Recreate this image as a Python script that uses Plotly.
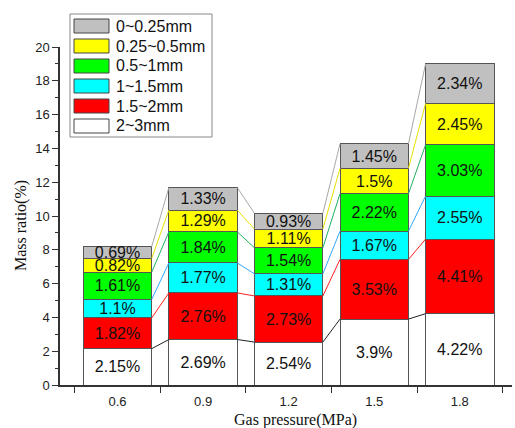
import plotly.graph_objects as go

# ---- data ----
pressures = ["0.6", "0.9", "1.2", "1.5", "1.8"]
size_classes = ["2~3mm", "1.5~2mm", "1~1.5mm", "0.5~1mm", "0.25~0.5mm", "0~0.25mm"]
mass_2_3 = [2.15, 2.69, 2.54, 3.9, 4.22]
mass_15_2 = [1.82, 2.76, 2.73, 3.53, 4.41]
mass_1_15 = [1.1, 1.77, 1.31, 1.67, 2.55]
mass_05_1 = [1.61, 1.84, 1.54, 2.22, 3.03]
mass_025_05 = [0.82, 1.29, 1.11, 1.5, 2.45]
mass_0_025 = [0.69, 1.33, 0.93, 1.45, 2.34]

series = [mass_2_3, mass_15_2, mass_1_15, mass_05_1, mass_025_05, mass_0_025]
fill_colors = ["#FFFFFF", "#FF0000", "#00FFFF", "#00FF00", "#FFFF00", "#C0C0C0"]
link_colors = ["#222222", "#FF2020", "#30A8FF", "#20B060", "#E8E000", "#A8A8A8"]

W, H = 515, 428
L, R, T, B = 60, 3, 47, 43
bar_w = 0.8
xs = list(range(len(pressures)))

fig = go.Figure()

# stacked bars
for name, vals, col in zip(size_classes, series, fill_colors):
    fig.add_trace(go.Bar(
        x=xs, y=vals, name=name, width=bar_w,
        marker=dict(color=col, line=dict(color="#555555", width=1)),
        text=[f"{v}%" for v in vals],
        textposition="inside", insidetextanchor="middle", textangle=0,
        textfont=dict(family="Liberation Sans", size=16, color="#111111"),
        showlegend=False, hoverinfo="skip",
    ))

# connecting lines between tops of equal segments
cum = [0.0] * len(xs)
for vals, lc in zip(series, link_colors):
    cum = [c + v for c, v in zip(cum, vals)]
    lx, ly = [], []
    for i in range(len(xs) - 1):
        lx += [xs[i] + bar_w / 2, xs[i + 1] - bar_w / 2, None]
        ly += [cum[i], cum[i + 1], None]
    fig.add_trace(go.Scatter(x=lx, y=ly, mode="lines",
                             line=dict(color=lc, width=1),
                             showlegend=False, hoverinfo="skip"))

# ---- manual legend (boxed, wide swatches) ----
pw, ph = W - L - R, H - T - B
def px(x):
    return (x - L) / pw
def py(y):
    return (H - B - y) / ph

shapes = [dict(type="rect", xref="paper", yref="paper",
               x0=px(70), x1=px(212), y0=py(137), y1=py(14),
               line=dict(color="#888888", width=1), fillcolor="white", layer="above")]
annotations = []
legend_order = list(zip(size_classes, fill_colors))[::-1]
for k, (name, col) in enumerate(legend_order):
    cy = 26 + 20 * k
    shapes.append(dict(type="rect", xref="paper", yref="paper",
                       x0=px(74), x1=px(109), y0=py(cy + 7), y1=py(cy - 7),
                       line=dict(color="#444444", width=1), fillcolor=col, layer="above"))
    annotations.append(dict(xref="paper", yref="paper", x=px(114), y=py(cy),
                            xanchor="left", yanchor="middle", showarrow=False,
                            text=name, font=dict(family="Liberation Sans", size=16, color="#111111")))

# axis titles
annotations.append(dict(xref="paper", yref="paper", x=px(295), y=py(420),
                        xanchor="center", yanchor="middle", showarrow=False,
                        text="Gas pressure(MPa)",
                        font=dict(family="Liberation Serif", size=16, color="#111111")))
annotations.append(dict(xref="paper", yref="paper", x=px(21), y=py(226),
                        xanchor="center", yanchor="middle", showarrow=False, textangle=-90,
                        text="Mass ratio(%)",
                        font=dict(family="Liberation Serif", size=16, color="#111111")))

fig.update_layout(
    width=W, height=H,
    margin=dict(l=L, r=R, t=T, b=B),
    barmode="stack",
    bargap=0.2,
    plot_bgcolor="white", paper_bgcolor="white",
    uniformtext=dict(minsize=16, mode="show"),
    shapes=shapes, annotations=annotations,
    showlegend=False,
)
fig.update_xaxes(
    range=[-0.672, 4.61], tickvals=xs, ticktext=pressures, ticks="",
    ticklabelstandoff=4,
    showline=True, linecolor="#333333", linewidth=1.5,
    showgrid=False, zeroline=False,
    tickfont=dict(family="Liberation Sans", size=13, color="#222222"),
    minor=dict(tickvals=[x - 0.5 for x in xs] + [xs[-1] + 0.5],
               ticks="outside", ticklen=6, tickcolor="#333333", tickwidth=1.2),
)
fig.update_yaxes(
    range=[0, 20], dtick=2, ticks="outside", ticklen=6, tickcolor="#333333",
    showline=True, linecolor="#333333", linewidth=1.5,
    showgrid=False, zeroline=False,
    tickfont=dict(family="Liberation Sans", size=13, color="#222222"),
    minor=dict(dtick=1, ticks="outside", ticklen=3, tickcolor="#333333"),
)

fig.write_html("out.html", config={"displayModeBar": False})

# remove the default page margin so the figure sits at the window's corner
with open("out.html", "r", encoding="utf-8") as f:
    html = f.read()
html = html.replace("<head>", "<head><style>html,body{margin:0;padding:0;}</style>", 1)
with open("out.html", "w", encoding="utf-8") as f:
    f.write(html)
